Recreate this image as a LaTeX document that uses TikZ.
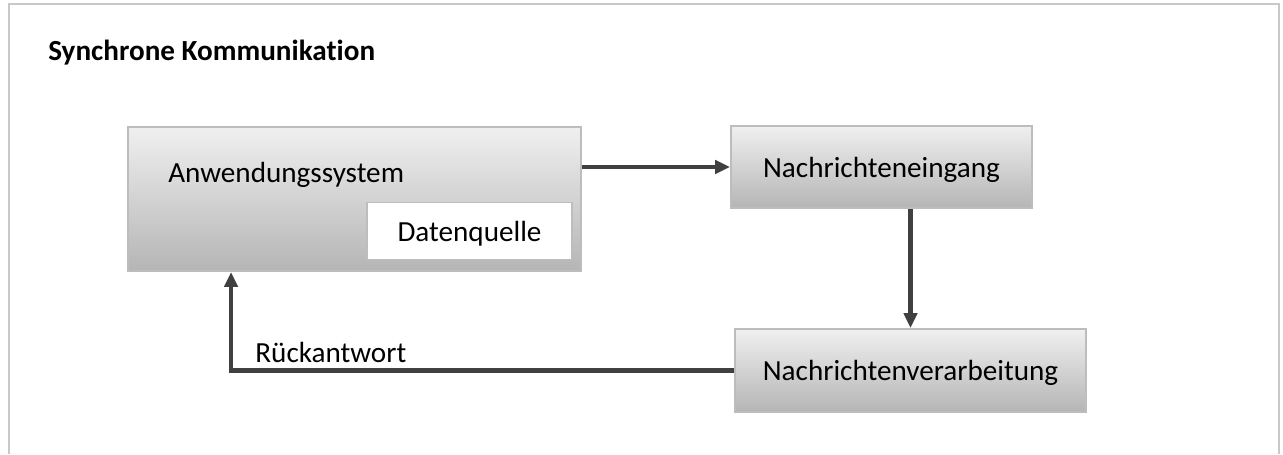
\documentclass[tikz,border=0pt]{standalone}
\usepackage{fontspec}
\setmainfont[Ligatures=NoCommon]{Carlito}
\usetikzlibrary{arrows.meta}

\definecolor{rahmengrau}{HTML}{C8C8C8}
\definecolor{kantengrau}{HTML}{BDBDBD}
\definecolor{pfeilgrau}{HTML}{404040}

\tikzset{
  kasten/.style={draw=kantengrau, line width=1.1pt, top color=black!6,
    bottom color=black!29, inner sep=0pt, text depth=0pt},
  weiss/.style={draw=kantengrau, line width=1.1pt, fill=white, inner sep=0pt,
    text depth=0pt},
  pfeil/.style={draw=pfeilgrau, line width=2.4pt,
    -{Triangle[length=8.5pt,width=7.5pt]}},
}

\begin{document}
\begin{tikzpicture}[x=0.02cm, y=-0.02cm, font=\fontsize{16.6}{19}\selectfont]
    \useasboundingbox (0,0) rectangle (1283,454);
    % offener Rahmen
    \draw[rahmengrau, line width=1.4pt] (9,454) -- (9,4) -- (1279,4) -- (1279,454);
    \node[anchor=base west, inner sep=0pt, font=\fontsize{16.6}{19}\selectfont\bfseries] (titel) at (48,60) {Synchrone Kommunikation};

    \node[kasten, minimum width=9.06cm, minimum height=2.88cm] (anw) at (354.5,199) {};
    \node[anchor=west, inner sep=0pt] (anwtext) at (168,175) {Anwendungssystem};
    \node[weiss, minimum width=4.1cm, minimum height=1.14cm] (dq) at (469.5,231) {Datenquelle};

    \node[kasten, minimum width=6.02cm, minimum height=1.64cm] (ein) at (881.5,167) {Nachrichteneingang};
    \node[kasten, minimum width=7.02cm, minimum height=1.66cm] (ver) at (910.5,370.5) {Nachrichtenverarbeitung};

    \draw[pfeil] (anw.east |- ein.west) -- (ein.west);
    \draw[pfeil] (ver.north |- ein.south) -- (ver.north);
    \draw[pfeil] (ver.west) -| ([xshift=2.08cm]anw.south west);
    \node[anchor=west, inner sep=0pt] (rk) at (255,352) {Rückantwort};
\end{tikzpicture}
\end{document}
